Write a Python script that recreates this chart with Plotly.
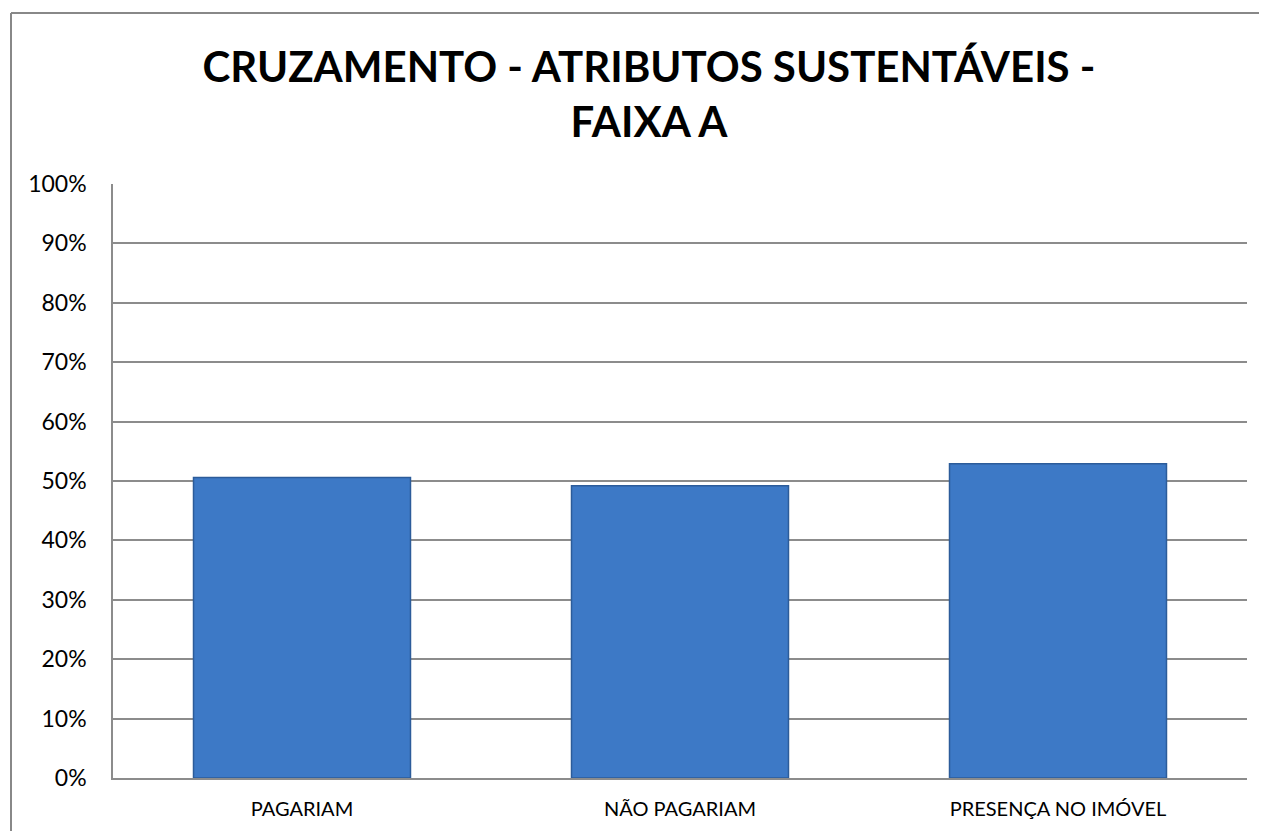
import plotly.graph_objects as go

categories = ["PAGARIAM", "NÃO PAGARIAM", "PRESENÇA NO IMÓVEL"]
values = [0.506, 0.492, 0.529]
tick_vals = [i / 10 for i in range(11)]
tick_text = [f"{i*10}%" for i in range(11)]

OFF = 8  # page body margin
W, H = 1267 - 2 * OFF, 839 - 2 * OFF
L, R, T, B = 113 - OFF, 1247 - OFF, 184 - OFF, 778 - OFF

fig = go.Figure()
fig.add_trace(go.Bar(
    x=categories, y=values,
    marker=dict(color="#3D79C6", line=dict(color="#2C5C9A", width=1.5)),
    width=0.574,
    hoverinfo="skip",
))

grid_col = "#8C8C8C"
fig.update_layout(
    width=W, height=H,
    margin=dict(l=L, r=W - R, t=T, b=H - B),
    paper_bgcolor="white", plot_bgcolor="white",
    showlegend=False,
    title=dict(
        text="CRUZAMENTO - ATRIBUTOS SUSTENTÁVEIS -<br>FAIXA A",
        x=(649 - OFF) / W, xanchor="center", xref="container",
        y=1 - (82 - OFF) / H, yanchor="middle", yref="container",
        font=dict(family="Lato", size=42, color="black", weight="bold"),
    ),
    font=dict(family="Lato", color="black"),
)
fig.update_yaxes(
    range=[0, 1], tickvals=tick_vals, ticktext=tick_text,
    showgrid=True, gridcolor=grid_col, gridwidth=1.5,
    showline=True, linecolor=grid_col, linewidth=1.5,
    ticks="", ticklabelstandoff=20,
    tickfont=dict(family="Lato", size=23, color="black"),
    zeroline=False, fixedrange=True,
)
fig.update_xaxes(
    showline=True, linecolor=grid_col, linewidth=1.5,
    ticks="", ticklabelstandoff=12,
    tickfont=dict(family="Lato", size=20, color="black"),
    fixedrange=True,
)
# outer chart border (top and left edges visible in the reference)
pw, ph = R - L, B - T
bx0 = (11 - OFF - L) / pw
bx1 = (W + 40 - L) / pw
by0 = (B - (H + 40)) / ph
by1 = (B - (13 - OFF)) / ph
border = dict(color="#888888", width=2)
fig.add_shape(type="line", xref="paper", yref="paper",
              x0=bx0, x1=bx1, y0=by1, y1=by1, line=border, layer="below")
fig.add_shape(type="line", xref="paper", yref="paper",
              x0=bx0, x1=bx0, y0=by0, y1=by1, line=border, layer="below")
fig.write_html("out.html")
